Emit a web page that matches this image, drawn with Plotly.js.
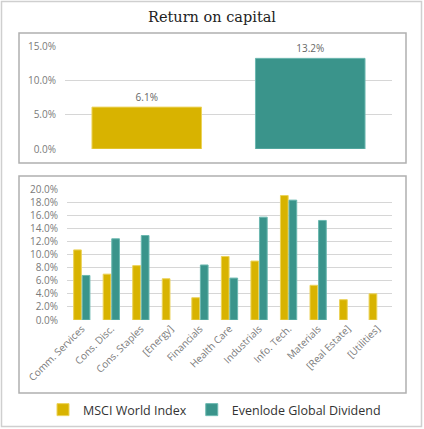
<!DOCTYPE html>
<html>
<head>
<meta charset="utf-8">
<script src="https://cdn.plot.ly/plotly-3.0.1.min.js"></script>
<style>
  html, body { margin: 0; padding: 0; background: #fff; }
  #chart { width: 424px; height: 429px; }
</style>
</head>
<body>
<div id="chart"></div>
<script>
// top panel: overall return on capital
const FUNDS = ['MSCI World Index', 'Evenlode Global Dividend'];
const TOTAL_ROC = [6.1, 13.2];

// bottom panel: by sector
const SECTORS = ['Comm. Services', 'Cons. Disc.', 'Cons. Staples', '[Energy]', 'Financials',
  'Health Care', 'Industrials', 'Info. Tech.', 'Materials', '[Real Estate]', '[Utilities]'];
const MSCI_ROC     = [10.7, 7.0, 8.3, 6.3, 3.4, 9.7, 9.0, 19.0, 5.3, 3.1, 4.0];
const EVENLODE_ROC = [6.8, 12.4, 12.9, null, 8.4, 6.4, 15.7, 18.3, 15.2, null, null];

const W = 424, H = 429;
const YELLOW = '#d8b300', YELLOW_EDGE = '#ecd35a';
const TEAL = '#3a948b', TEAL_EDGE = '#6cb8b0';
const TICK_FONT = { family: 'Open Sans', size: 10, color: '#7a7a7a' };

// pixel -> paper fraction helpers
const px = v => v / W;
const py = v => 1 - v / H;

const traces = [
  {
    type: 'bar', x: FUNDS, y: TOTAL_ROC, xaxis: 'x', yaxis: 'y',
    width: 0.67,
    marker: { color: [YELLOW, TEAL], line: { color: [YELLOW_EDGE, TEAL_EDGE], width: 1 } },
    texttemplate: '%{y:.1f}%', textposition: 'outside', cliponaxis: false,
    textfont: { family: 'Open Sans', size: 10, color: '#666' },
    showlegend: false, hoverinfo: 'skip',
  },
  {
    type: 'bar', name: FUNDS[0], x: SECTORS, y: MSCI_ROC, xaxis: 'x2', yaxis: 'y2',
    marker: { color: YELLOW, line: { color: YELLOW_EDGE, width: 1 } },
  },
  {
    type: 'bar', name: FUNDS[1], x: SECTORS, y: EVENLODE_ROC, xaxis: 'x2', yaxis: 'y2',
    marker: { color: TEAL, line: { color: TEAL_EDGE, width: 1 } },
  },
];

const axisY = extra => Object.assign({
  tickfont: TICK_FONT, ticksuffix: '%', tickformat: '.1f',
  gridcolor: '#d6d6d6', gridwidth: 1, zeroline: false, showline: false,
  ticks: '', ticklabelstandoff: 8, fixedrange: true,
}, extra);

const box = (x0, y0, x1, y1, color, w) => ({
  type: 'rect', xref: 'paper', yref: 'paper', layer: 'below',
  x0: px(x0), x1: px(x1), y0: py(y0), y1: py(y1),
  line: { color, width: w }, fillcolor: 'rgba(0,0,0,0)',
});

const layout = {
  width: W, height: H,
  margin: { l: 0, r: 0, t: 0, b: 0 },
  paper_bgcolor: '#fff', plot_bgcolor: 'rgba(0,0,0,0)',
  title: {
    text: 'Return on capital', x: 0.5, xanchor: 'center',
    y: py(17), yanchor: 'middle',
    font: { family: 'DejaVu Serif', size: 14.5, color: '#222' },
  },
  barmode: 'group', bargap: 0.42, bargroupgap: 0.1,
  xaxis: {
    domain: [px(65), px(392)], anchor: 'y', showticklabels: false,
    showgrid: false, zeroline: false, fixedrange: true,
  },
  yaxis: axisY({ domain: [py(149), py(46)], anchor: 'x', range: [0, 15], dtick: 5 }),
  xaxis2: {
    domain: [px(67), px(392)], anchor: 'y2', tickangle: -45,
    tickfont: TICK_FONT, showgrid: false, zeroline: false, ticks: '', fixedrange: true,
  },
  yaxis2: axisY({ domain: [py(320), py(189)], anchor: 'x2', range: [0, 20], dtick: 2 }),
  showlegend: true,
  legend: {
    orientation: 'h', x: px(43), xanchor: 'left', y: py(410), yanchor: 'middle',
    font: { family: 'Open Sans', size: 12.5, color: '#333' },
    bgcolor: 'rgba(0,0,0,0)',
  },
  shapes: [
    box(1.5, 1.5, 421.5, 426.5, '#cfcfcf', 1.5),
    box(19, 33, 406, 163, '#b0b0b0', 1.5),
    box(19, 176, 406, 393, '#b0b0b0', 1.5),
  ],
  hovermode: false,
};

Plotly.newPlot('chart', traces, layout, { displayModeBar: false, staticPlot: true });
</script>
</body>
</html>
